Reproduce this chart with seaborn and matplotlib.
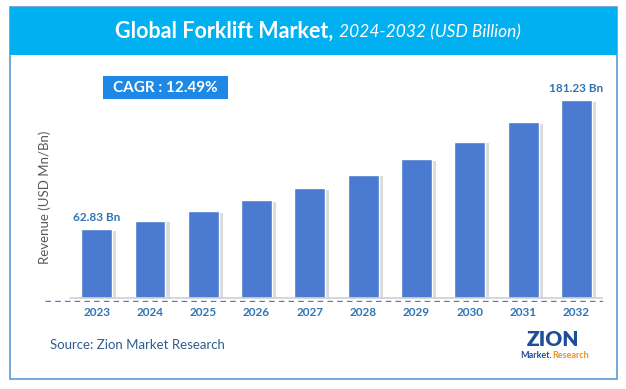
import pandas as pd
import matplotlib.pyplot as plt
import matplotlib.patheffects as pe
from matplotlib.patches import Rectangle
import seaborn as sns

sns.set_theme(style="white")
plt.rcParams['font.family'] = ['Lato', 'DejaVu Sans']

# data
years = ['2023', '2024', '2025', '2026', '2027', '2028', '2029', '2030', '2031', '2032']
revenue = [62.83, 70.7, 79.5, 89.4, 100.6, 113.1, 127.3, 143.1, 161.1, 181.23]
first_label = '62.83 Bn'
last_label = '181.23 Bn'
cagr_text = 'CAGR : 12.49%'

df = pd.DataFrame({'Year': years, 'Revenue': revenue})

bar_color = '#4A7BD0'
label_color = '#2E75B6'

fig = plt.figure(figsize=(6.26, 3.89), dpi=100)
fig.patch.set_facecolor('white')
W, H = 626, 389

def fx(px):
    return px / W

def fy(py):
    return 1 - py / H

# outer frame + title band
fig.add_artist(Rectangle((fx(10), fy(379)), fx(607), (379 - 7) / H, transform=fig.transFigure,
                         fill=False, edgecolor='#5B9BD5', lw=1.2))
fig.add_artist(Rectangle((fx(10), fy(55)), fx(607), 48 / H, transform=fig.transFigure,
                         facecolor='#00B0F0', edgecolor='none'))
fig.text(fx(333), fy(31), 'Global Forklift Market,', ha='right', va='center',
         color='white', fontsize=15.5, fontweight='bold')
fig.text(fx(339), fy(32), '2024-2032 (USD Billion)', ha='left', va='center',
         color='white', fontsize=12.5, style='italic')

# main axes
ax = fig.add_axes([fx(45), fy(302.4), fx(558), (302.4 - 70) / H])
sns.barplot(data=df, x='Year', y='Revenue', color=bar_color, width=0.58,
            saturation=1, ax=ax, zorder=3)
for p in ax.patches:
    p.set_path_effects([pe.SimplePatchShadow(offset=(3, -1), shadow_rgbFace='#9A9A9A', alpha=0.35),
                        pe.Normal()])

ax.set_xlim(-0.97, 9.5)
ax.set_ylim(-4, 209)
ax.axhline(0, xmin=(-0.5 + 0.97) / 10.47, xmax=1, color='#D0D0D0', lw=1.2, zorder=4)
ax.axhline(-3, color='#4A7BD0', lw=1, ls=(0, (4, 3)), zorder=4)

ax.set_ylabel('')
ax.set_xlabel('')
ax.set_yticks([])
ax.tick_params(axis='x', length=0, pad=3, labelcolor=label_color, labelsize=8.5)
for t in ax.get_xticklabels():
    t.set_fontweight('bold')
for s in ax.spines.values():
    s.set_visible(False)
ax.patch.set_alpha(0)

fig.text(fx(45), fy(197), 'Revenue (USD Mn/Bn)', rotation=90, ha='center', va='center',
         color='#595959', fontsize=9.5)

ax.text(0, revenue[0] + 6, first_label, ha='center', va='bottom', color=label_color,
        fontsize=8.5, fontweight='bold')
ax.text(9, revenue[-1] + 6, last_label, ha='center', va='bottom', color=label_color,
        fontsize=8.5, fontweight='bold')

# CAGR box
fig.add_artist(Rectangle((fx(103), fy(99)), fx(125), 23 / H, transform=fig.transFigure,
                         facecolor='#1E88E5', edgecolor='none'))
fig.text(fx(165), fy(87.5), cagr_text, ha='center', va='center', color='white',
         fontsize=11, fontweight='bold')

# source + logo
fig.text(fx(50), fy(345), 'Source: Zion Market Research', ha='left', va='center',
         color='#2F5C8F', fontsize=9.5)
fig.text(fx(553), fy(340), 'ZION', ha='center', va='center', color='#1F4E99',
         fontsize=15, fontweight='heavy')
fig.text(fx(552), fy(356), 'Market.', ha='right', va='center', color='#1F4E99',
         fontsize=6.5, fontweight='bold')
fig.text(fx(552), fy(356), 'Research', ha='left', va='center', color='#F28C1E',
         fontsize=6.5, fontweight='bold')

fig.savefig('out.png', dpi=100)
